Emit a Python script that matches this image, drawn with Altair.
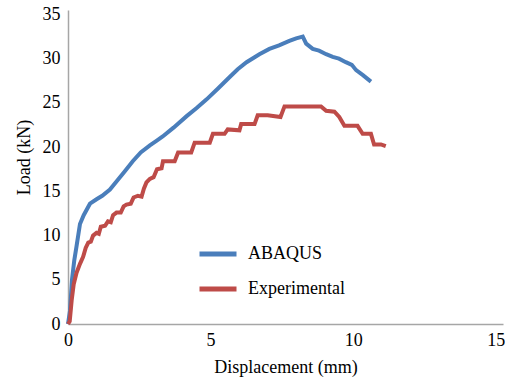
import altair as alt
import pandas as pd

# Load-displacement curves
abaqus_disp = [0.0, 0.07, 0.14, 0.22, 0.3, 0.42, 0.55, 0.77, 1.0, 1.2, 1.47, 1.75, 2.0,
               2.27, 2.55, 2.87, 3.1, 3.32, 3.7, 4.16, 4.5, 4.86, 5.25, 5.66, 5.95,
               6.26, 6.71, 7.06, 7.4, 7.76, 8.0, 8.23, 8.35, 8.58, 8.8, 9.05, 9.28,
               9.5, 9.74, 9.95, 10.1, 10.35, 10.62]
abaqus_load = [0.0, 1.5, 5.0, 7.2, 8.8, 11.3, 12.3, 13.6, 14.1, 14.5, 15.2, 16.3, 17.3,
               18.4, 19.4, 20.2, 20.7, 21.2, 22.2, 23.5, 24.4, 25.4, 26.6, 27.9, 28.8,
               29.6, 30.5, 31.1, 31.5, 32.0, 32.3, 32.5, 31.7, 31.1, 30.9, 30.5, 30.2,
               30.0, 29.6, 29.3, 28.7, 28.1, 27.4]

exp_disp = [0.0, 0.06, 0.13, 0.2, 0.3, 0.42, 0.53, 0.62, 0.71, 0.8, 0.88, 1.0, 1.08,
            1.15, 1.3, 1.4, 1.5, 1.58, 1.7, 1.85, 1.95, 2.05, 2.2, 2.3, 2.45, 2.58,
            2.66, 2.75, 2.87, 3.0, 3.12, 3.28, 3.33, 3.74, 3.86, 4.32, 4.44, 4.97,
            5.08, 5.49, 5.6, 6.01, 6.07, 6.54, 6.65, 7.0, 7.45, 7.59, 8.87, 9.05,
            9.34, 9.51, 9.69, 10.15, 10.33, 10.62, 10.73, 10.97, 11.14]
exp_load = [0.0, 0.3, 2.7, 4.5, 5.8, 6.8, 7.6, 8.6, 9.2, 9.3, 10.0, 10.3, 10.2,
            11.0, 11.1, 11.6, 11.5, 12.3, 12.6, 12.6, 13.3, 13.5, 13.6, 14.3, 14.5, 14.4,
            15.3, 16.0, 16.4, 16.6, 17.5, 17.6, 18.4, 18.4, 19.4, 19.4, 20.5, 20.5,
            21.5, 21.5, 22.0, 21.9, 22.6, 22.6, 23.6, 23.6, 23.4, 24.6, 24.6, 24.1,
            24.0, 23.4, 22.4, 22.4, 21.5, 21.5, 20.3, 20.3, 20.1]

series_names = ["ABAQUS", "Experimental"]
series_colors = ["#4A7EBB", "#BE4B48"]
x_ticks = [0, 5, 10, 15]
y_ticks = [0, 5, 10, 15, 20, 25, 30, 35]

df = pd.concat([
    pd.DataFrame({"disp": abaqus_disp, "load": abaqus_load,
                  "series": series_names[0], "order": range(len(abaqus_disp))}),
    pd.DataFrame({"disp": exp_disp, "load": exp_load,
                  "series": series_names[1], "order": range(len(exp_disp))}),
])

font = "Times New Roman, Liberation Serif, serif"

chart = alt.Chart(df).mark_line(strokeWidth=4).encode(
    x=alt.X("disp:Q",
            scale=alt.Scale(domain=[0, 15.25], nice=False, zero=True),
            axis=alt.Axis(title="Displacement (mm)", values=x_ticks, format="d",
                          labelFont=font, labelFontSize=18, labelPadding=7,
                          labelFlush=False,
                          titleY=43, titleBaseline="middle")),
    y=alt.Y("load:Q",
            scale=alt.Scale(domain=[0, 35.5], nice=False),
            axis=alt.Axis(title="Load (kN)", values=y_ticks, format="d",
                          labelFont=font, labelFontSize=18, labelPadding=8,
                          titleX=-44, titleY=147,
                          titleBaseline="middle", titleAlign="center")),
    color=alt.Color("series:N",
                    scale=alt.Scale(domain=series_names, range=series_colors),
                    legend=alt.Legend(title=None, orient="none", legendX=129, legendY=223,
                                      symbolType="stroke", symbolSize=1369,
                                      symbolStrokeWidth=5, labelOffset=9,
                                      rowPadding=4, padding=0,
                                      labelFont=font, labelFontSize=18,
                                      labelColor="#000000")),
    order="order:Q",
).properties(
    width=435,
    height=314,
    autosize=alt.AutoSizeParams(type="none"),
    padding={"left": 68, "top": 10, "right": 2, "bottom": 57},
).configure(
    font=font
).configure_view(
    stroke=None
).configure_axis(
    grid=False,
    ticks=False,
    domainColor="#A6A6A6",
    domainWidth=1.5,
    labelFont=font,
    labelFontSize=18,
    labelColor="#000000",
    titleFont=font,
    titleFontSize=18,
    titleFontWeight="normal",
    titleColor="#000000",
).configure_legend(
    labelFont=font
)

chart.save("out.html", embed_options={"renderer": "svg", "actions": False})
